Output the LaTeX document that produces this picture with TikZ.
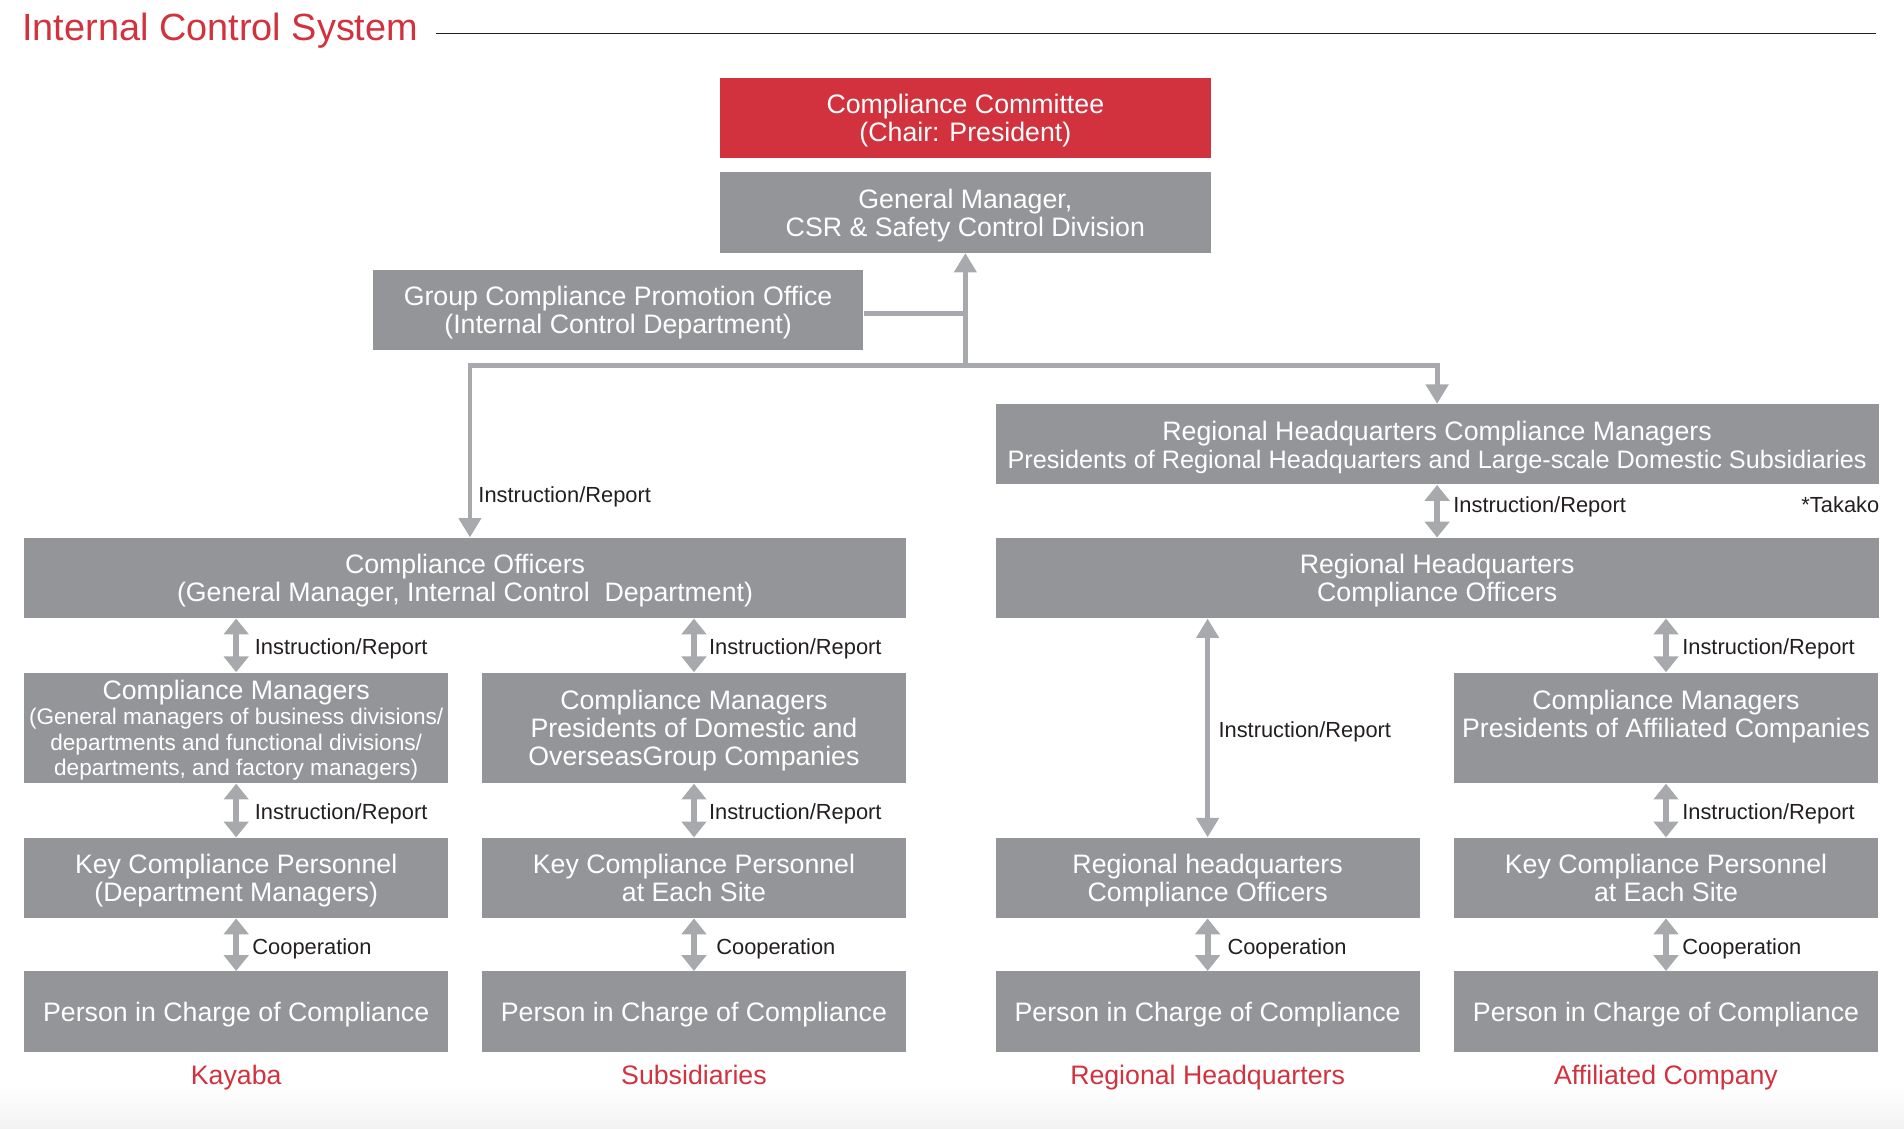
\documentclass[tikz,border=0pt]{standalone}
\usepackage{fontspec}
\setmainfont{Liberation Sans}
\usetikzlibrary{arrows.meta,positioning}
\definecolor{kred}{HTML}{D2323E}
\definecolor{boxgray}{HTML}{939598}
\definecolor{linegray}{HTML}{A7A9AC}
\definecolor{txt}{HTML}{231F20}

\begin{document}
\begin{tikzpicture}[x=0.5pt, y=-0.5pt, node distance=5pt,
    box/.style = {fill=boxgray, text=white, inner sep=0pt, align=center, text depth=-1.5pt, minimum width=174.5pt, minimum height=33pt, font=\fontsize{11}{11.5}\selectfont},
    wide/.style = {box, minimum width=363.5pt},
    mid/.style = {box, minimum width=202pt},
    head/.style = {mid, fill=kred},
    tall/.style = {box, minimum height=45.5pt},
    lbl/.style = {text=txt, font=\fontsize{9}{10}\selectfont, inner sep=1.5pt, yshift=-1.5pt, xshift=4pt},
    unit/.style = {text=kred, font=\fontsize{11}{12}\selectfont, inner sep=0pt},
    tree/.style = {draw=linegray, line width=2pt, >={Triangle[width=9pt,length=8pt]}},
    dbl/.style = {every edge/.style={draw=linegray, line width=2.4pt, {Triangle[width=10pt,length=6.5pt]}-{Triangle[width=10pt,length=6.5pt]}}}]
    \useasboundingbox (0,0) rectangle (1568,929);
    \shade[top color=white, bottom color=black!5] (0,895) rectangle (1568,929);

    \node[anchor=base west, text=kred, font=\fontsize{15.6}{18}\selectfont, inner sep=0pt] (title) at (18,33) {Internal Control System};
    \coordinate (rule) at (1545,26);
    \draw[txt, line width=0.6pt] ([xshift=7pt]title.mid east) -- (title.mid east -| rule);

    \node[head] (cc) at (795,97) {Compliance Committee\\(Chair: President)};
    \node[mid] (gm) at (795,175) {General Manager,\\CSR \& Safety Control Division};
    \node[mid] (gp) at (509,255) {Group Compliance Promotion Office\\(Internal Control Department)};
    \node[wide] (rm) at (1183.5,366) {Regional Headquarters Compliance Managers\\{\fontsize{10.4}{11.5}\selectfont Presidents of Regional Headquarters and Large-scale Domestic Subsidiaries}};
    \node[wide] (co) at (383,476) {Compliance Officers\\(General Manager, Internal Control\ \ Department)};
    \node[wide] (ro) at (1183.5,476) {Regional Headquarters\\Compliance Officers};

    \node[tall, font=\fontsize{9.3}{10.5}\selectfont] (km) at (194.5,599.5) {{\fontsize{11}{10.5}\selectfont Compliance Managers}\\(General managers of business divisions/\\departments and functional divisions/\\departments, and factory managers)};
    \node[tall] (sm) at (571.5,599.5) {Compliance Managers\\Presidents of Domestic and\\OverseasGroup Companies};
    \node[tall] (am) at (1372,599.5) {Compliance Managers\\Presidents of Affiliated Companies\\~};

    \node[box] (kk) at (194.5,723) {Key Compliance Personnel\\(Department Managers)};
    \node[box] (sk) at (571.5,723) {Key Compliance Personnel\\at Each Site};
    \node[box] (rk) at (994.5,723) {Regional headquarters\\Compliance Officers};
    \node[box] (ak) at (1372,723) {Key Compliance Personnel\\at Each Site};

    \node[box] (kp) at (194.5,833) {Person in Charge of Compliance};
    \node[box] (sp) at (571.5,833) {Person in Charge of Compliance};
    \node[box] (rp) at (994.5,833) {Person in Charge of Compliance};
    \node[box] (ap) at (1372,833) {Person in Charge of Compliance};

    \node[unit, below=5pt of kp] (ku) {Kayaba};
    \node[unit, below=5pt of sp] (su) {Subsidiaries};
    \node[unit, below=5pt of rp] (ru) {Regional Headquarters};
    \node[unit, below=5pt of ap] (au) {Affiliated Company};

    \node[lbl, anchor=east, xshift=-4pt] (tk) at (1551,413) {*Takako};

    \coordinate (j) at (795,301);
    \draw[tree] ([yshift=-1.5pt]gp.east) -- ([yshift=-1.5pt]gp.east -| j);
    \draw[tree,->] (j) -- (gm.south);
    \draw[tree,->] (j) -| ([xshift=2pt]co.north) node[lbl, right, pos=0.87, xshift=-3pt] {Instruction/Report};
    \draw[tree,->] (j) -| (rm.north);

    \path[dbl]
        (rm.south) edge node[lbl, right, pos=0.35] {Instruction/Report} (ro.north)
        (co.south -| km.north) edge node[lbl, right, xshift=1pt] {Instruction/Report} (km.north)
        (co.south -| sm.north) edge node[lbl, right, xshift=-0.5pt] {Instruction/Report} (sm.north)
        (ro.south -| am.north) edge node[lbl, right] {Instruction/Report} (am.north)
        (km.south) edge node[lbl, right, xshift=1pt] {Instruction/Report} (kk.north)
        (sm.south) edge node[lbl, right, xshift=-0.5pt] {Instruction/Report} (sk.north)
        (am.south) edge node[lbl, right] {Instruction/Report} (ak.north)
        (kk.south) edge node[lbl, right] {Cooperation} (kp.north)
        (sk.south) edge node[lbl, right, xshift=2.5pt] {Cooperation} (sp.north)
        (rk.south) edge node[lbl, right, xshift=1.5pt] {Cooperation} (rp.north)
        (ak.south) edge node[lbl, right] {Cooperation} (ap.north);
    \draw[tree,<->] (ro.south -| rk.north) -- (rk.north) node[lbl, right, midway, xshift=-2pt] {Instruction/Report};
\end{tikzpicture}
\end{document}
